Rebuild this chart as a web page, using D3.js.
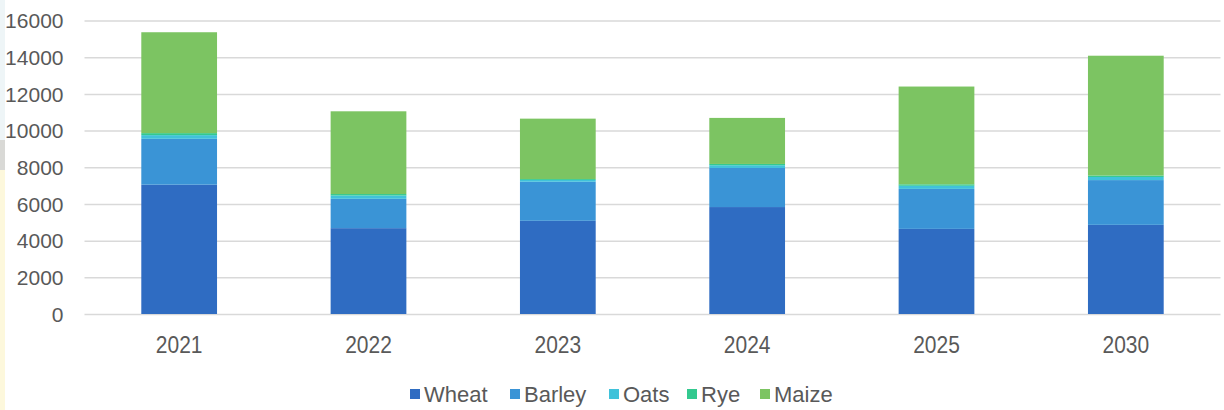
<!DOCTYPE html>
<html><head><meta charset="utf-8">
<script src="https://cdn.jsdelivr.net/npm/d3@7"></script>
<style>html,body{margin:0;padding:0;background:#fff;overflow:hidden}</style>
</head><body>
<svg id="c" width="1224" height="410"></svg>
<script>
const categories = ["2021","2022","2023","2024","2025","2030"];
const seriesNames = ["Wheat","Barley","Oats","Rye","Maize"];
const wheat  = [7050, 4680, 5080, 5830, 4640, 4860];
const barley = [2500, 1600, 2130, 2130, 2180, 2440];
const oats   = [200, 180, 100, 150, 170, 170];
const rye    = [110, 80, 50, 70, 80, 80];
const maize  = [5500, 4510, 3290, 2510, 5330, 6530];
const yTicks = [0,2000,4000,6000,8000,10000,12000,14000,16000];
const colors = ["#2f6cc2","#3a94d6","#40c2da","#33c98f","#7cc462"];

const rows = categories.map((c,i)=>({cat:c, Wheat:wheat[i], Barley:barley[i], Oats:oats[i], Rye:rye[i], Maize:maize[i]}));
const svg = d3.select("#c");

// background decorations (edge tint of the source image)
svg.append("rect").attr("x",0).attr("y",0).attr("width",5).attr("height",140).attr("fill","#eef5f7");
svg.append("rect").attr("x",0).attr("y",140).attr("width",5).attr("height",30).attr("fill","#d9d9d6");
svg.append("rect").attr("x",0).attr("y",170).attr("width",5).attr("height",240).attr("fill","#fdf8dc");

const x = d3.scaleBand().domain(categories).range([84.5,1220.5]).paddingInner(0.6).paddingOuter(0.3);
const y = d3.scaleLinear().domain([0,16000]).range([314,20.5]);

const font = "'Liberation Sans', Arial, sans-serif";

// gridlines
const yAxis = d3.axisLeft(y).tickValues(yTicks).tickSize(-(1220.5-84.5)).tickPadding(21).tickFormat(d3.format("d"));
const gy = svg.append("g").attr("transform","translate(84.5,0)").call(yAxis);
gy.select(".domain").remove();
gy.selectAll(".tick line").attr("stroke","#d9d9d9").attr("stroke-width",1.5);
gy.selectAll(".tick text").attr("fill","#595959").style("font-family",font).style("font-size","21px").attr("dy","0.35em");

// bars
const stack = d3.stack().keys(seriesNames)(rows);
const color = d3.scaleOrdinal().domain(seriesNames).range(colors);
svg.append("g").selectAll("g").data(stack).join("g").attr("fill",d=>color(d.key))
  .selectAll("rect").data(d=>d).join("rect")
  .attr("x",d=>x(d.data.cat)).attr("width",x.bandwidth())
  .attr("y",d=>y(d[1])).attr("height",d=>y(d[0])-y(d[1]));

// x axis
const xAxis = d3.axisBottom(x).tickSize(0).tickPadding(20);
const gx = svg.append("g").attr("transform","translate(0,314)").call(xAxis);
gx.select(".domain").remove();
gx.selectAll(".tick text").attr("fill","#595959").style("font-family",font).style("font-size","21px")
  .attr("transform","scale(1,1.12)");

// legend
const legX = [410, 510, 609, 687, 760];
const lg = svg.append("g");
seriesNames.forEach((s,i)=>{
  lg.append("rect").attr("x",legX[i]).attr("y",389).attr("width",10).attr("height",10).attr("fill",colors[i]);
  lg.append("text").attr("x",legX[i]+14).attr("y",394).attr("dy","0.36em").attr("fill","#595959")
    .style("font-family",font).style("font-size","22px").text(s);
});
</script>
</body></html>
